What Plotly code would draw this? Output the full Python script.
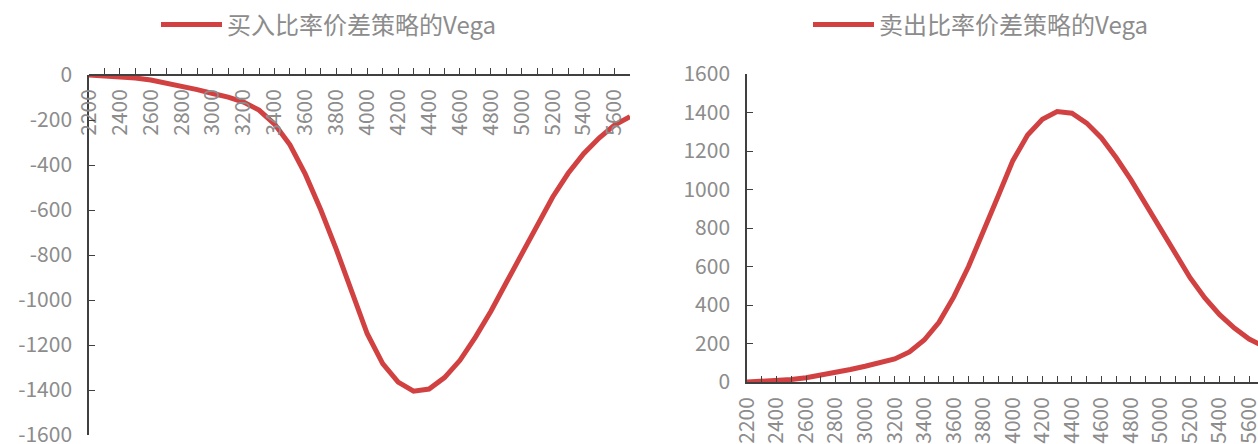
import plotly.graph_objects as go

# Strike prices (category axis, step 100)
strikes = [2200, 2300, 2400, 2500, 2600, 2700, 2800, 2900, 3000, 3100,
           3200, 3300, 3400, 3500, 3600, 3700, 3800, 3900, 4000, 4100,
           4200, 4300, 4400, 4500, 4600, 4700, 4800, 4900, 5000, 5100,
           5200, 5300, 5400, 5500, 5600, 5700]

# Vega of the long ratio spread
buy_vega = [0, -3, -7, -13, -22, -35, -50, -65, -82, -98,
            -120, -156, -218, -310, -442, -600, -775, -965, -1150, -1283,
            -1365, -1405, -1396, -1345, -1268, -1165, -1050, -922, -792, -662,
            -542, -437, -350, -280, -223, -185]

# Vega of the short ratio spread
sell_vega = [0, 3, 7, 13, 22, 35, 50, 65, 82, 98,
             120, 156, 218, 310, 442, 600, 775, 965, 1150, 1283,
             1365, 1405, 1396, 1345, 1268, 1165, 1050, 922, 792, 662,
             542, 437, 350, 280, 223, 185]

buy_name = "买入比率价差策略的Vega"
sell_name = "卖出比率价差策略的Vega"

left_yticks = [0, -200, -400, -600, -800, -1000, -1200, -1400, -1600]
left_ytext = ["0", "-200", "-400", "-600", "-800", "-1000", "-1200", "-1400", "-1600"]
right_yticks = [0, 200, 400, 600, 800, 1000, 1200, 1400, 1600]
right_ytext = ["0", "200", "400", "600", "800", "1000", "1200", "1400", "1600"]

W, H = 1258, 444
LINE = "#d14141"
AXIS = "#404040"
TXT = "#8c8c8c"
FONT = "Noto Sans CJK SC"


def px_x(p):
    return p / W


def px_y(p):
    return (H - p) / H


fig = go.Figure()
fig.add_trace(go.Scatter(x=strikes, y=buy_vega, mode="lines", name=buy_name,
                         line=dict(color=LINE, width=5), xaxis="x", yaxis="y",
                         legend="legend"))
fig.add_trace(go.Scatter(x=strikes, y=sell_vega, mode="lines", name=sell_name,
                         line=dict(color=LINE, width=5), xaxis="x2", yaxis="y2",
                         legend="legend2"))

tick_font = dict(family=FONT, size=21, color=TXT)

xcommon = dict(
    automargin=False, ticklabeloverflow="allow", ticklabelstandoff=5,
    showgrid=False, zeroline=False, showline=True, linecolor=AXIS, linewidth=1.5,
    ticks="inside", ticklen=6, tickwidth=1.3, tickcolor=AXIS,
    tick0=2200, dtick=200, tickangle=-90, tickfont=tick_font,
    minor=dict(ticks="inside", ticklen=6, tickwidth=1.3, tickcolor=AXIS,
               tick0=2200, dtick=100),
)
ycommon = dict(
    automargin=False, ticklabeloverflow="allow", ticklabelstandoff=11,
    showgrid=False, zeroline=False, showline=True, linecolor=AXIS, linewidth=1.5,
    ticks="inside", ticklen=6, tickwidth=1.3, tickcolor=AXIS, tickfont=tick_font,
    tickmode="array",
)

legend_font = dict(family=FONT, size=24, color=TXT)

fig.update_layout(
    width=W, height=H,
    margin=dict(l=0, r=0, t=0, b=0, autoexpand=False),
    paper_bgcolor="white", plot_bgcolor="white",
    font=dict(family=FONT, color=TXT),
    xaxis=dict(domain=[px_x(89), px_x(630)], range=[2200, 5700],
               anchor="free", position=px_y(75), side="bottom", **xcommon),
    yaxis=dict(domain=[px_y(435), px_y(75)], range=[-1600, 0],
               anchor="x", tickvals=left_yticks, ticktext=left_ytext, **ycommon),
    xaxis2=dict(domain=[px_x(747), 1.0], range=[2200, 5660],
                anchor="y2", side="bottom", **xcommon),
    yaxis2=dict(domain=[px_y(382), px_y(74)], range=[0, 1600],
                anchor="x2", tickvals=right_yticks, ticktext=right_ytext, **ycommon),
    legend=dict(x=px_x(156), y=px_y(25), xanchor="left", yanchor="middle",
                font=legend_font, itemwidth=61, bgcolor="rgba(0,0,0,0)"),
    legend2=dict(x=px_x(808), y=px_y(25), xanchor="left", yanchor="middle",
                 font=legend_font, itemwidth=61, bgcolor="rgba(0,0,0,0)"),
    showlegend=True,
)

fig.write_html("out.html")
